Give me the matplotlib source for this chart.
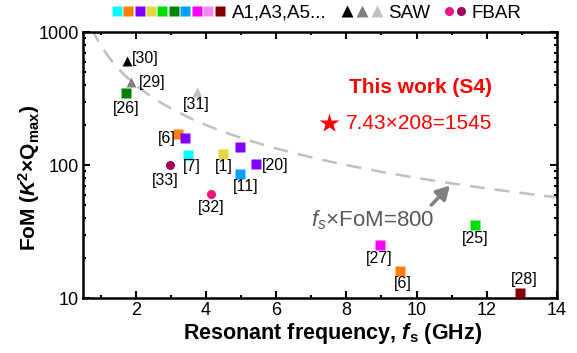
import numpy as np
import matplotlib
matplotlib.use("Agg")
import matplotlib.pyplot as plt
from matplotlib.lines import Line2D
from matplotlib.legend_handler import HandlerTuple

plt.rcParams['font.family'] = ['Liberation Sans', 'DejaVu Sans']
plt.rcParams['mathtext.fontset'] = 'custom'
plt.rcParams['mathtext.rm'] = 'Liberation Sans'
plt.rcParams['mathtext.it'] = 'Liberation Sans:italic'
plt.rcParams['mathtext.bf'] = 'Liberation Sans:bold'
plt.rcParams['mathtext.bfit'] = 'Liberation Sans:bold:italic'

# Lamb wave (A1, A3, A5...) resonators
lamb_labels = ['[26]', '[6]', '', '[7]', '[1]', '', '[20]', '[11]', '[27]', '[6]', '[25]', '[28]']
lamb_freq = [1.72, 3.22, 3.41, 3.49, 4.48, 4.98, 5.42, 4.98, 8.95, 9.54, 11.66, 12.94]
lamb_fom = [346, 170, 159, 119, 120, 137, 101, 86, 25, 16, 35.4, 10.9]
lamb_colors = ['#008000', '#ff8000', '#8000ff', '#00ffff', '#e0d840', '#8000ff',
               '#8000ff', '#00a0ff', '#ff00ff', '#ff8000', '#00dd00', '#800000']

# SAW
saw_labels = ['[30]', '[29]', '[31]']
saw_freq = [1.76, 1.88, 3.74]
saw_fom = [610, 420, 356]
saw_colors = ['#000000', '#808080', '#c0c0c0']

# FBAR
fbar_labels = ['[33]', '[32]']
fbar_freq = [2.99, 4.16]
fbar_fom = [100, 61]
fbar_colors = ['#a0005a', '#f0167f']

# label offsets (points)
lamb_off = [(0, -11), (-8.5, -3), (0, 0), (3, -8.6), (1, -8.6), (0, 0), (14, -1), (4, -9.5),
            (0, -9.5), (1.5, -9), (0.5, -9.5), (3, 9.5)]
saw_off = [(13, 1.5), (15, 0), (0, -9.5)]
fbar_off = [(-3.5, -11), (0, -10)]

legend_sq = ['#00ffff', '#ff8000', '#8000ff', '#e0d840', '#00dd00', '#008000',
             '#00a0ff', '#ff00ff', '#ff88ee', '#800000']

fom_const = 800
this_work = '7.43×208=1545'

fig = plt.figure(figsize=(5.77, 3.53), dpi=100)
ax = fig.add_axes([0.1438, 0.1558, 0.8215, 0.7535])

# constant line f_s x FoM = 800
xs = np.linspace(0.5, 14, 200)
ax.plot(xs, fom_const / xs, ls=(0, (6, 4)), color='#c0c0c0', lw=1.8, zorder=1)

for f, v, c, lab, off in zip(lamb_freq, lamb_fom, lamb_colors, lamb_labels, lamb_off):
    ax.plot(f, v, 's', color=c, ms=6.5, mec='none', zorder=3, clip_on=False)
    if lab:
        ax.annotate(lab, (f, v), xytext=off, textcoords='offset points',
                    ha='center', va='center', fontsize=11.5)
for f, v, c, lab, off in zip(saw_freq, saw_fom, saw_colors, saw_labels, saw_off):
    ax.plot(f, v, '^', color=c, ms=7.5, mec='none', zorder=3)
    ax.annotate(lab, (f, v), xytext=off, textcoords='offset points',
                ha='center', va='center', fontsize=11.5)
for f, v, c, lab, off in zip(fbar_freq, fbar_fom, fbar_colors, fbar_labels, fbar_off):
    ax.plot(f, v, 'o', color=c, ms=6.5, mec='none', zorder=3)
    ax.annotate(lab, (f, v), xytext=off, textcoords='offset points',
                ha='center', va='center', fontsize=11.5)

ax.set_yscale('log')
ax.set_xlim(0.5, 14)
ax.set_ylim(10, 1000)
ax.set_xticks([2, 4, 6, 8, 10, 12, 14])
ax.set_xticks([1, 3, 5, 7, 9, 11, 13], minor=True)
ax.set_yticks([10, 100, 1000])
ax.set_yticklabels(['10', '100', '1000'])
ax.tick_params(which='both', direction='in', top=True, right=True, width=1.5, labelsize=13)
ax.tick_params(which='major', length=5, pad=3)
ax.tick_params(which='minor', length=2.5)
for s in ax.spines.values():
    s.set_linewidth(1.8)

ax.set_xlabel(r'Resonant frequency, $\boldsymbol{f}_{\mathbf{s}}$ (GHz)', fontsize=15.5,
              fontweight='bold')
ax.xaxis.set_label_coords(0.527, -0.088)
ax.set_ylabel(r'FoM ($\boldsymbol{K}^{\mathbf{2}}$×Q$_{\mathbf{max}}$)', fontsize=15,
              fontweight='bold')
ax.yaxis.set_label_coords(-0.086, 0.45)

# this work
ax.text(0.713, 0.793, 'This work (S4)', transform=ax.transAxes, color='#ff0000',
        fontsize=15, fontweight='bold', ha='center', va='center')
ax.plot([0.519], [0.658], '*', transform=ax.transAxes, color='#ff0000', ms=15, mec='none')
ax.text(0.555, 0.655, this_work, transform=ax.transAxes, color='#ff0000',
        fontsize=15, ha='left', va='center')

# f_s x FoM annotation
ax.annotate('', xy=(10.95, 70), xytext=(10.42, 50),
            arrowprops=dict(arrowstyle='-|>,head_width=0.45,head_length=0.8',
                            color='#808080', lw=2.5, shrinkA=0, shrinkB=0))
ax.text(8.76, 38.6, r'$f_s$×FoM=800', color='#5a5a5a', fontsize=16, ha='center', va='center')

# legends above the axes
sq = tuple(Line2D([], [], marker='s', ls='', color=c, ms=7, mec='none') for c in legend_sq)
tri = tuple(Line2D([], [], marker='^', ls='', color=c, ms=8, mec='none') for c in saw_colors)
cir = tuple(Line2D([], [], marker='o', ls='', color=c, ms=6.5, mec='none') for c in fbar_colors[::-1])
hm = {tuple: HandlerTuple(ndivide=None, pad=0.0)}
common = dict(loc='center left', frameon=False, fontsize=13.5, borderpad=0, borderaxespad=0,
              handler_map=hm)
leg1 = fig.legend([sq], ['A1,A3,A5...'], bbox_to_anchor=(111 / 577, 0.963),
                  handlelength=6.1, handletextpad=0.35, **common)
leg2 = fig.legend([tri], ['SAW'], bbox_to_anchor=(339 / 577, 0.963),
                  handlelength=2.4, handletextpad=0.2, **common)
leg3 = fig.legend([cir], ['FBAR'], bbox_to_anchor=(443 / 577, 0.963),
                  handlelength=1.3, handletextpad=0.2, **common)

fig.savefig('out.png', dpi=100)
